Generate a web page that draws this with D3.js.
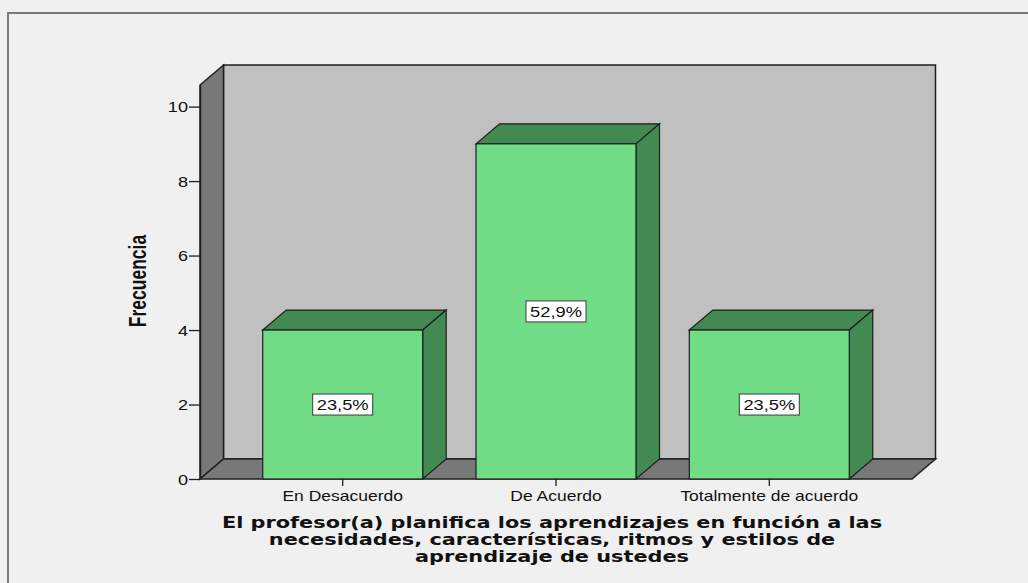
<!DOCTYPE html>
<html><head><meta charset="utf-8">
<script src="https://cdn.jsdelivr.net/npm/d3@7"></script>
<style>
html,body{margin:0;padding:0;background:#f0f0f0;}
svg{display:block;}
</style></head>
<body>
<svg id="chart" width="1028" height="583"></svg>
<script>
// ---- data ----
const categories = ["En Desacuerdo", "De Acuerdo", "Totalmente de acuerdo"];
const counts = [4, 9, 4];
const percentLabels = ["23,5%", "52,9%", "23,5%"];
const yTicks = [0, 2, 4, 6, 8, 10];
const yAxisTitle = "Frecuencia";
const titleLines = [
  "El profesor(a) planifica los aprendizajes en función a las",
  "necesidades, características, ritmos y estilos de",
  "aprendizaje de ustedes"
];
const yDomainMax = 10.58;

// ---- layout ----
const svg = d3.select("#chart");
const W = 1028, H = 583;
const DX = 23.5, DY = -20;
const y = d3.scaleLinear().domain([0, yDomainMax]).range([479, 85]);
const x = d3.scaleBand().domain(categories).range([200, 912]).paddingInner(0.25).paddingOuter(0.294);
const y0 = y(0), yTop = y(yDomainMax);
const xL = x.range()[0], xR = x.range()[1];
const stroke = "#1e1e1e";
const SX = 1.25;

svg.append("rect").attr("width", W).attr("height", H).attr("fill", "#f0f0f0");
// frame
svg.append("path").attr("d", `M8,${H} L8,13 L${W},13`).attr("fill", "none").attr("stroke", "#7a7a7a").attr("stroke-width", 2);

// back wall
svg.append("rect").attr("x", xL + DX).attr("y", yTop + DY).attr("width", xR - xL).attr("height", y0 - yTop)
  .attr("fill", "#c0c0c0").attr("stroke", stroke).attr("stroke-width", 1.5);
// left wall
svg.append("path").attr("d", `M${xL},${y0} L${xL},${yTop} L${xL + DX},${yTop + DY} L${xL + DX},${y0 + DY} Z`)
  .attr("fill", "#787878").attr("stroke", stroke).attr("stroke-width", 1.5);
// floor
svg.append("path").attr("d", `M${xL},${y0} L${xL + DX},${y0 + DY} L${xR + DX},${y0 + DY} L${xR},${y0} Z`)
  .attr("fill", "#787878").attr("stroke", stroke).attr("stroke-width", 1.5);

// bars
const bw = x.bandwidth();
const bars = svg.append("g").selectAll("g").data(categories).join("g");
bars.each(function (c, i) {
  const g = d3.select(this);
  const bx = x(c), yt = y(counts[i]);
  g.append("path").attr("d", `M${bx},${yt} L${bx + DX},${yt + DY} L${bx + bw + DX},${yt + DY} L${bx + bw},${yt} Z`)
    .attr("fill", "#428a52").attr("stroke", stroke).attr("stroke-width", 1.2);
  g.append("path").attr("d", `M${bx + bw},${yt} L${bx + bw + DX},${yt + DY} L${bx + bw + DX},${y0 + DY} L${bx + bw},${y0} Z`)
    .attr("fill", "#428a52").attr("stroke", stroke).attr("stroke-width", 1.2);
  g.append("rect").attr("x", bx).attr("y", yt).attr("width", bw).attr("height", y0 - yt)
    .attr("fill", "#70dd86").attr("stroke", stroke).attr("stroke-width", 1.2);
  // percent label
  const cx = bx + bw / 2, cy = y(counts[i] / 2);
  g.append("rect").attr("x", cx - 30).attr("y", cy - 10.5).attr("width", 60).attr("height", 21)
    .attr("fill", "#ffffff").attr("stroke", "#3a3a3a").attr("stroke-width", 1);
  g.append("text").attr("transform", `translate(${cx},${cy + 5.5}) scale(1.22,1)`)
    .attr("text-anchor", "middle").attr("font-family", "Liberation Sans, Arial, sans-serif")
    .attr("font-size", 15).attr("fill", "#111").text(percentLabels[i]);
});

// y axis
const yAxis = svg.append("g").attr("transform", `translate(${xL},0)`)
  .call(d3.axisLeft(y).tickValues(yTicks).tickSize(11).tickSizeOuter(0).tickPadding(1));
yAxis.select(".domain").attr("stroke", stroke).attr("stroke-width", 1.5);
yAxis.selectAll(".tick line").attr("stroke", stroke).attr("stroke-width", 1.3);
yAxis.selectAll(".tick text")
  .attr("font-family", "Liberation Sans, Arial, sans-serif").attr("font-size", 14.5).attr("fill", "#111")
  .attr("x", null).attr("dy", null)
  .attr("transform", `translate(-12,5) scale(${SX},1)`);

// x axis ticks and labels
const xAxis = svg.append("g").attr("transform", `translate(0,${y0})`)
  .call(d3.axisBottom(x).tickSize(7).tickSizeOuter(0).tickPadding(0));
xAxis.select(".domain").remove();
xAxis.selectAll(".tick line").attr("stroke", stroke).attr("stroke-width", 1.3);
xAxis.selectAll(".tick text")
  .attr("font-family", "Liberation Sans, Arial, sans-serif").attr("font-size", 14).attr("fill", "#111")
  .attr("y", null).attr("dy", null)
  .attr("transform", `translate(0,22) scale(${SX},1)`);

// y axis title
svg.append("text").attr("transform", `translate(138,281) scale(1.4,1) rotate(-90)`)
  .attr("text-anchor", "middle").attr("dy", 6).attr("font-family", "Liberation Sans, Arial, sans-serif")
  .attr("font-weight", "bold").attr("font-size", 17.5).attr("fill", "#111").text(yAxisTitle);

// title
const title = svg.append("g").attr("transform", `translate(552,0)`);
titleLines.forEach((t, i) => {
  title.append("text").attr("transform", `translate(0,${528 + i * 17}) scale(1.345,1)`)
    .attr("text-anchor", "middle").attr("font-family", "DejaVu Sans, sans-serif")
    .attr("font-weight", "bold").attr("font-size", 15.5).attr("fill", "#111").text(t);
});
</script>
</body></html>
